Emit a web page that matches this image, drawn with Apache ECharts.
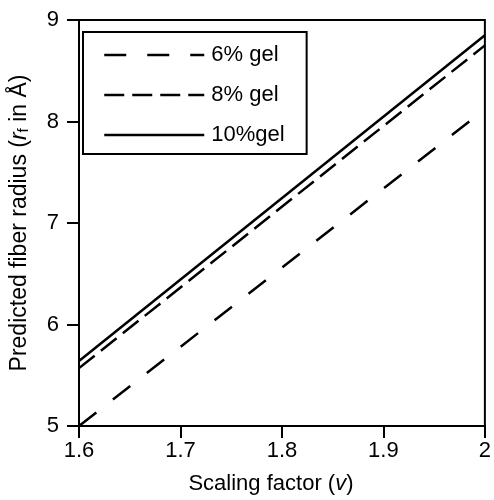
<!DOCTYPE html>
<html>
<head>
<meta charset="utf-8">
<script src="https://cdn.jsdelivr.net/npm/echarts@6/dist/echarts.min.js"></script>
<style>html,body{margin:0;padding:0;background:#fff}#c{width:494px;height:500px}</style>
</head>
<body>
<div id="c"></div>
<script>
const xValues = [1.6, 2.0];
const gel6 = [5.0, 8.12];
const gel8 = [5.57, 8.75];
const gel10 = [5.64, 8.85];
const seriesNames = ['6% gel', '8% gel', '10%gel'];

const FONT = 'Liberation Sans, Arial, Helvetica, sans-serif';
const pairs = (ys) => xValues.map((x, i) => [x, ys[i]]);

const chart = echarts.init(document.getElementById('c'), null, {renderer: 'canvas'});
chart.setOption({
  animation: false,
  backgroundColor: '#fff',
  textStyle: {fontFamily: FONT, color: '#000'},
  grid: {left: 75, right: 3, top: 20, bottom: 67, show: true, borderColor: '#000', borderWidth: 2, backgroundColor: 'transparent'},
  legend: {
    orient: 'vertical', left: 83, top: 32,
    data: seriesNames,
    itemWidth: 100, itemHeight: 22, itemGap: 18,
    padding: [12, 22, 8, 20],
    borderColor: '#000', borderWidth: 2,
    itemStyle: {opacity: 0},
    lineStyle: {width: 2.5},
    textStyle: {fontFamily: FONT, fontSize: 22, color: '#000', padding: [0, 0, 0, 2]},
    inactiveColor: '#000'
  },
  xAxis: {
    type: 'value', min: 1.6, max: 2.0, interval: 0.1,
    name: 'Scaling factor ({i|v})', nameLocation: 'middle', nameGap: 47,
    nameTextStyle: {fontFamily: FONT, fontSize: 22, color: '#000', padding: [0, 22, 0, 0],
      rich: {i: {fontFamily: FONT, fontSize: 22, fontStyle: 'italic', color: '#000'}}},
    axisLine: {lineStyle: {color: '#000', width: 2}},
    axisTick: {inside: false, length: 12, lineStyle: {color: '#000', width: 2}},
    axisLabel: {fontFamily: FONT, fontSize: 22, color: '#000', margin: 14,
      formatter: v => String(Math.round(v * 10) / 10)},
    splitLine: {show: false}
  },
  yAxis: {
    type: 'value', min: 5, max: 9, interval: 1,
    name: 'Predicted fiber radius ({i|r}{sub|f} in Å)', nameLocation: 'middle', nameGap: 48,
    nameTextStyle: {fontFamily: FONT, fontSize: 23, color: '#000',
      rich: {
        i: {fontFamily: FONT, fontSize: 23, fontStyle: 'italic', color: '#000'},
        sub: {fontFamily: FONT, fontSize: 15, color: '#000', verticalAlign: 'bottom', padding: [8, 0, 0, 0]}
      }},
    axisLine: {lineStyle: {color: '#000', width: 2}},
    axisTick: {inside: false, length: 12, lineStyle: {color: '#000', width: 2}},
    axisLabel: {fontFamily: FONT, fontSize: 22, color: '#000', margin: 20},
    splitLine: {show: false}
  },
  series: [
    {name: seriesNames[0], type: 'line', data: pairs(gel6), symbol: 'none', color: '#000',
      lineStyle: {color: '#000', width: 2.5, type: [22, 21]}},
    {name: seriesNames[1], type: 'line', data: pairs(gel8), symbol: 'none', color: '#000',
      lineStyle: {color: '#000', width: 2.5, type: [20, 8]}},
    {name: seriesNames[2], type: 'line', data: pairs(gel10), symbol: 'none', color: '#000',
      lineStyle: {color: '#000', width: 2.5, type: 'solid'}}
  ]
});
</script>
</body>
</html>
